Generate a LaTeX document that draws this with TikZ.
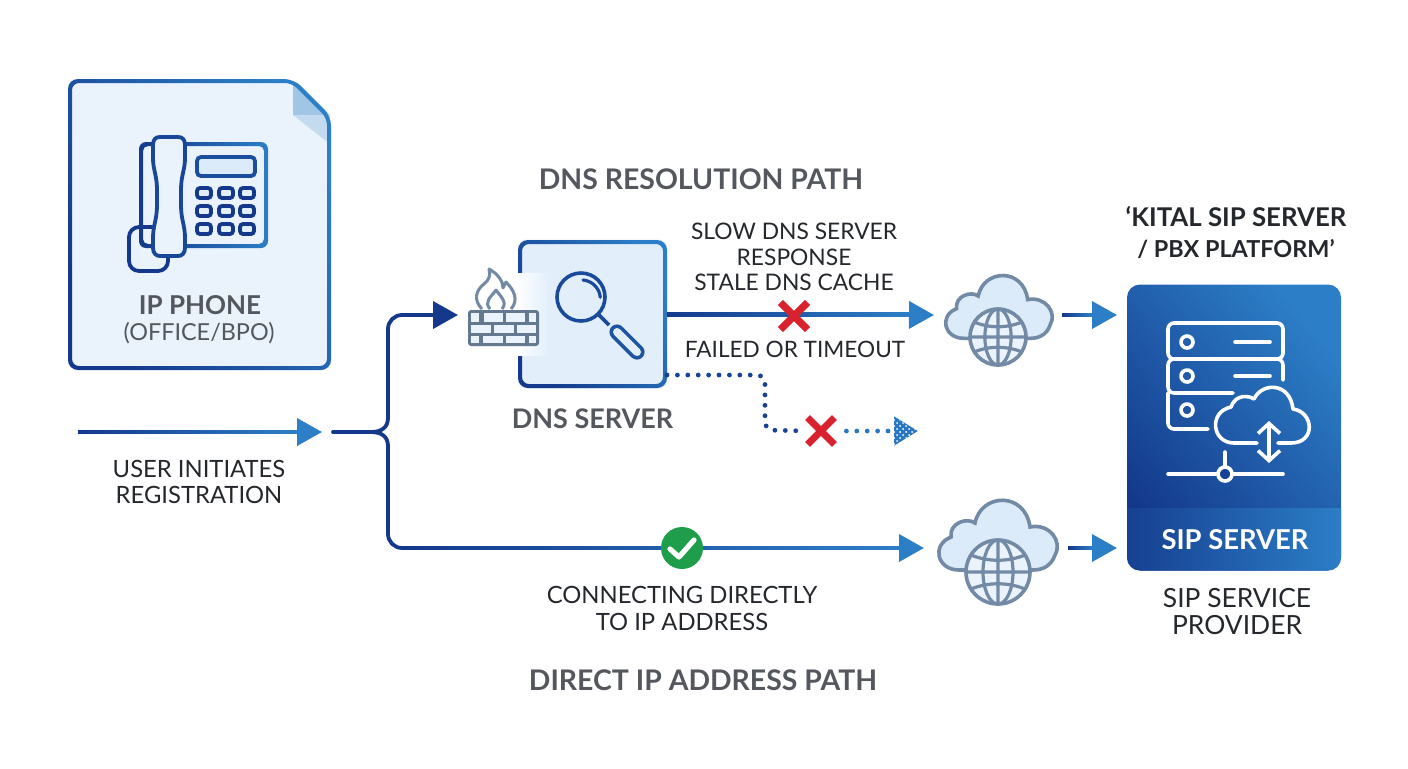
\documentclass[tikz,border=0pt]{standalone}
\usepackage{fontspec}
\setmainfont{Lato}
\usetikzlibrary{arrows.meta,calc,patterns,positioning,shapes.misc}

\definecolor{navy_blue}{HTML}{14398C}
\definecolor{mid_blue}{HTML}{2C7EC6}
\definecolor{card_fill}{HTML}{EAF3FC}
\definecolor{dns_fill}{HTML}{E2EFFA}
\definecolor{cloud_line}{HTML}{728AA5}
\definecolor{cloud_fill}{HTML}{DCEBF9}
\definecolor{wall_grey}{HTML}{64788F}
\definecolor{head_grey}{HTML}{54585E}
\definecolor{body_dark}{HTML}{24272C}
\definecolor{cross_red}{HTML}{D8232F}
\definecolor{ok_green}{HTML}{1E9E4A}

\tikzset{
  head_text/.style={font=\fontsize{13}{14}\selectfont\bfseries,text=head_grey,inner sep=0pt},
  title_text/.style={font=\fontsize{14.2}{15}\selectfont\bfseries,text=head_grey,inner sep=0pt},
  sub_text/.style={font=\fontsize{11.7}{14}\selectfont,text=head_grey,inner sep=0pt},
  body_text/.style={font=\fontsize{11.9}{13.4}\selectfont,text=body_dark,align=center,inner sep=0pt},
  flow/.style={line width=1.9pt,mid_blue,-{Triangle[length=12.5pt,width=13.5pt]}},
  flow_dark/.style={line width=1.9pt,navy_blue},
  flow_dots/.style={line width=2.4pt,line cap=round,dash pattern=on 0pt off 5.2pt},
  hidden_box/.style={inner sep=0pt,outer sep=0pt,minimum height=20pt},
  xmark/.style={cross out,draw=cross_red,line width=3.4pt,inner sep=0pt,minimum size=10pt},
  rim/.style={even odd rule,left color=navy_blue,right color=mid_blue,shading angle=120},
  phone_line/.style={line width=1.9pt,navy_blue,rounded corners=2pt},
  icon_line/.style={line width=1.8pt,white,line cap=round,line join=round},
  net_cloud/.pic={
    \draw[line width=1.8pt,cloud_line,fill=cloud_fill]
      (-38,27) .. controls (-60,27) and (-66,2) .. (-46,-6)
      .. controls (-48,-20) and (-30,-26) .. (-22,-20)
      .. controls (-16,-50) and (28,-52) .. (33,-16)
      .. controls (52,-20) and (66,-2) .. (58,12)
      .. controls (54,24) and (44,27) .. (36,27) -- cycle;
  },
  net_globe/.pic={
    \draw[line width=1.8pt,cloud_line,fill=card_fill] (0,0) circle[radius=32];
    \draw[line width=1.6pt,cloud_line] (0,0) ellipse[x radius=15,y radius=32]
      (0,-32) -- (0,32) (-32,0) -- (32,0)
      (-27,-17) .. controls (-10,-10) and (10,-10) .. (27,-17)
      (-27,17) .. controls (-10,10) and (10,10) .. (27,17);
  }
}

\begin{document}
\begin{tikzpicture}[x=0.5pt,y=-0.5pt]
  \useasboundingbox (0,0) rectangle (1408,768);

  % phone card
  \fill[card_fill,rounded corners=4pt] (68,79) -- (294,79) -- (331,117) -- (331,370) -- (68,370) -- cycle;
  \fill[mid_blue!45] (293,81) -- (293,115) -- (330,115) -- cycle;
  \fill[mid_blue!28] (293,115) -- (330,115) -- (330,144) -- cycle;
  \shade[rim] {[rounded corners=5pt] (68,79) -- (294,79) -- (331,116) -- (331,370) -- (68,370) -- cycle}
    {[rounded corners=3.5pt] (72,83) -- (292,83) -- (327,118) -- (327,366) -- (72,366) -- cycle};

  % phone icon
  \draw[phone_line,rounded corners=5pt] (129,248) -- (129,227) -- (168,227) -- (168,271) -- (129,271) -- cycle;
  \shade[rim,shading angle=90] {[rounded corners=3.5pt] (139,142) rectangle (268,248)}
    {[rounded corners=2.5pt] (143,146) rectangle (264,244)};
  \fill[card_fill] (160,150) rectangle (186,240);
  \draw[line width=1.9pt,navy_blue!80!mid_blue,fill=card_fill]
    (153,145) .. controls (153,139) and (156,137) .. (160,137) -- (178,137)
    .. controls (182,137) and (185,139) .. (185,145) -- (185,158)
    .. controls (185,170) and (181,175) .. (181,190) -- (181,205)
    .. controls (181,220) and (185,225) .. (185,238) -- (185,248)
    .. controls (185,253) and (182,256) .. (178,256) -- (160,256)
    .. controls (156,256) and (153,253) .. (153,248) -- (153,238)
    .. controls (153,225) and (157,220) .. (157,205) -- (157,190)
    .. controls (157,175) and (153,170) .. (153,158) -- cycle;
  \draw[phone_line,navy_blue!70!mid_blue,fill=cloud_fill] (197,157) rectangle (255,176);
  \foreach \kx in {204,226,247}
    \foreach \ky in {193,211,229}
      \draw[phone_line,fill=dns_fill,rounded corners=1.5pt] (\kx-7,\ky-5) rectangle (\kx+7,\ky+5);
  \node[head_text] (phone_name) at (200,305) {IP PHONE};
  \node[sub_text] (phone_site) at (199,333) {(OFFICE/BPO)};

  % dns server box
  \node[fill=dns_fill,rounded corners=4pt,inner sep=0pt,outer sep=0pt,minimum size=74.5pt] (dns_box) at (592.5,314) {};
  \shade[rim] {[rounded corners=5pt] (518,240) rectangle (667,388)}
    {[rounded corners=3.5pt] (522,244) rectangle (663,384)};
  \shade[left color=white,right color=dns_fill] (516,273) rectangle (548,355);
  \node[head_text,font=\fontsize{13.5}{14}\selectfont\bfseries] (dns_name) [below=10pt of dns_box] {DNS SERVER};

  % magnifier
  \draw[line width=1.8pt,navy_blue!75!mid_blue] (581,297) circle[radius=24];
  \draw[line width=1.6pt,navy_blue!75!mid_blue,line cap=round] (583,280) arc[start angle=-85,end angle=-5,radius=19];
  \draw[line width=1.8pt,navy_blue!75!mid_blue] (598,314) -- (609,325);
  \draw[line width=7.6pt,navy_blue!60!mid_blue,line cap=round] (617,332) -- (637,352);
  \draw[line width=4pt,dns_fill,line cap=round] (617,332) -- (637,352);

  % firewall
  \draw[line width=1.5pt,cloud_line,line join=round]
    (482,309) .. controls (473,300) and (476,290) .. (484,284)
    .. controls (489,280) and (491,275) .. (489,269)
    .. controls (498,274) and (503,281) .. (503,288)
    .. controls (504,286) and (505,284) .. (506,282)
    .. controls (514,290) and (519,300) .. (511,309);
  \draw[line width=1.5pt,cloud_line,line join=round]
    (490,309) .. controls (484,302) and (490,298) .. (496,290)
    .. controls (500,296) and (508,302) .. (502,309);
  \fill[wall_grey,rounded corners=1.5pt] (468,310) rectangle (539,346);
  \foreach \xa/\xb in {471/479,484/503,506/525,529/536}
    \fill[card_fill] (\xa,313) rectangle (\xb,322);
  \foreach \xa/\xb in {471/491,494/514,517/536}
    \fill[card_fill] (\xa,325) rectangle (\xb,333);
  \foreach \xa/\xb in {471/479,483/503,506/525,529/536}
    \fill[card_fill] (\xa,336) rectangle (\xb,343);
  \node[hidden_box,minimum width=45pt] (fire_wall) at (503,315) {};

  % clouds
  \pic[scale=.9] at (998,314) {net_cloud};
  \pic[scale=.875] at (998,337) {net_globe};
  \pic at (997,543) {net_cloud};
  \pic at (998,572) {net_globe};
  \node[hidden_box,minimum width=64pt] (cloud_top) at (998,315) {};
  \node[hidden_box,minimum width=72pt] (cloud_low) at (996,548) {};

  % sip server box
  \node[left color=navy_blue,middle color=navy_blue!82!mid_blue,right color=mid_blue,shading angle=130,rounded corners=6.5pt,
    inner sep=0pt,outer sep=0pt,minimum width=107pt,minimum height=143pt] (sip_box) at (1234,427.5) {};
  \shade[left color=navy_blue!90!mid_blue,right color=mid_blue] (1127,508) -- (1341,508)
    {[rounded corners=6.5pt] -- (1341,570.5) -- (1127,570.5)} -- cycle;
  \node[head_text,text=white,font=\fontsize{13.7}{14}\selectfont\bfseries] (sip_name) at (1235,540) {SIP SERVER};
  \draw[icon_line,rounded corners=3pt] (1168,323) rectangle (1283,359);
  \draw[icon_line,rounded corners=3pt] (1283,380) -- (1283,359) -- (1168,359) -- (1168,393) -- (1233,393);
  \draw[icon_line,rounded corners=3pt] (1168,393) -- (1168,429) -- (1208,429);
  \foreach \ry in {342,376,410}
    \draw[icon_line] (1187,\ry) circle[radius=6];
  \draw[icon_line] (1235,342) -- (1270,342) (1235,376) -- (1270,376);
  \draw[icon_line] (1257,443) -- (1234,443)
    .. controls (1212,443) and (1208,412) .. (1231,407)
    .. controls (1236,393) and (1250,396) .. (1254,399)
    .. controls (1262,382) and (1290,382) .. (1293,409)
    .. controls (1314,412) and (1316,443) .. (1291,443) -- (1278,443);
  \draw[icon_line,{Straight Barb[length=5pt,width=11pt]}-{Straight Barb[length=5pt,width=11pt]}] (1269,421) -- (1269,463);
  \draw[icon_line] (1168,474) -- (1283,474) (1225,452) -- (1225,467);
  \draw[icon_line,fill=navy_blue!85!mid_blue] (1225,474) circle[radius=7];

  % free ends of the connectors
  \coordinate (user_start) at (78,432);
  \coordinate (user_tip) at (322,432);
  \coordinate (fork_start) at (333,432);
  \coordinate (fork_top) at (388,418);
  \coordinate (fork_low) at (388,446);
  \coordinate (low_start) at (402,548);
  \coordinate (dots_start) at (667,375);
  \coordinate (dots_tip) at (918,431);
  \coordinate (sip_top) at (1117,315);
  \coordinate (sip_low) at (1117,548);

  % marks on the lines
  \node[xmark] (x_slow) at (794,316) {};
  \node[xmark] (x_fail) at (821,431) {};

  % connectors
  \path[flow] (user_start) edge (user_tip)
    (dns_box.east) edge (cloud_top.west)
    (cloud_top.east) edge (sip_top)
    (cloud_low.east) edge (sip_low)
    (low_start) edge (cloud_low.west);
  \foreach \ca/\cb in {user_start/user_tip,dns_box.east/cloud_top.west,cloud_top.east/sip_top,cloud_low.east/sip_low,low_start/cloud_low.west}
    \shade[left color=navy_blue,right color=mid_blue] ($(\ca)+(0,-1.9)$) rectangle ($(\cb)+(-25,1.9)$);

  \draw[flow_dark,rounded corners=7pt,-{Triangle[length=12.5pt,width=13.5pt]}] (fork_top) -- (388,315) -- (fire_wall.west);
  \draw[flow_dark,rounded corners=7pt] (fork_low) -- (388,548) -- (low_start);
  \draw[flow_dark,line cap=round] (fork_start) -- (372,432);
  \draw[flow_dark] (fork_top) .. controls (388,427) and (382,432) .. (371,432);
  \draw[flow_dark] (fork_low) .. controls (388,437) and (382,432) .. (371,432);

  \draw[flow_dots,navy_blue!85!mid_blue,rounded corners=4pt,shorten >=4pt] (dots_start) -- (765,375) -- (765,430) -- (x_fail.west);
  \draw[flow_dots,mid_blue!90!navy_blue,shorten <=6pt,-{Triangle[length=12pt,width=14pt]}] (x_fail.east) -- (dots_tip);
  \fill[pattern=crosshatch dots,pattern color=white] (894,417) -- (918,431) -- (894,445) -- cycle;

  % marks above the lines
  \node[fill=ok_green,circle,inner sep=0pt,minimum size=21pt] (ok_mark) at (682,548) {};
  \draw[line width=2.6pt,white,line cap=round,line join=round] (670,549) -- (679,557) -- (694,540);
  \node[xmark] (x_slow_top) at (x_slow) {};

  % labels
  \node[title_text] (path_dns) at (701,179) {DNS RESOLUTION PATH};
  \node[title_text] (path_ip) at (703,680) {DIRECT IP ADDRESS PATH};
  \node[body_text] (user_text) at (199,482) {USER INITIATES\\REGISTRATION};
  \node[body_text,font=\fontsize{11.4}{12.6}\selectfont] (slow_text) at (794,257) {SLOW DNS SERVER\\RESPONSE\\STALE DNS CACHE};
  \node[body_text,font=\fontsize{11.3}{12.6}\selectfont] (fail_text) at (795,349) {FAILED OR TIMEOUT};
  \node[body_text] (direct_text) at (682,608.5) {CONNECTING DIRECTLY\\TO IP ADDRESS};
  \node[body_text,font=\fontsize{13.2}{13.5}\selectfont] (provider_text) at (1237,611.5) {SIP SERVICE\\PROVIDER};
  \node[body_text,font=\fontsize{12.9}{15.5}\selectfont\bfseries] (kital_text) at (1236,232.5) {‘KITAL SIP SERVER\\{\fontsize{11.7}{15.5}\selectfont / PBX PLATFORM’}};
\end{tikzpicture}
\end{document}
